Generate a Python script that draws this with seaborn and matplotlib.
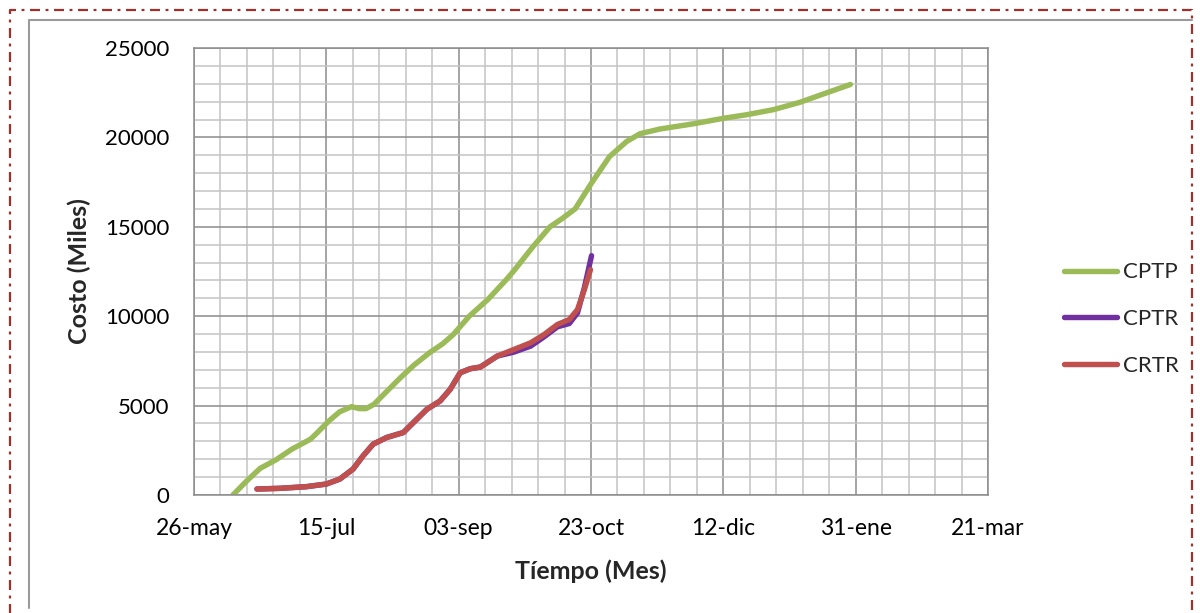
import numpy as np
import pandas as pd
import matplotlib
matplotlib.use("Agg")
import matplotlib.pyplot as plt
import matplotlib.dates as mdates
from matplotlib.ticker import MultipleLocator, FixedLocator, FixedFormatter
from matplotlib.lines import Line2D
import seaborn as sns

# ---------------- data ----------------
fecha_inicio = "2011-05-26"
tick_fechas = ["2011-05-26", "2011-07-15", "2011-09-03", "2011-10-23",
               "2011-12-12", "2012-01-31", "2012-03-21"]
tick_labels = ["26-may", "15-jul", "03-sep", "23-oct", "12-dic", "31-ene", "21-mar"]
series = ["CPTP", "CPTR", "CRTR"]
colores = ["#9BBB59", "#7030A0", "#C0504D"]

# days after fecha_inicio, cost (miles)
dias_cptp = [14.7, 20, 25, 31, 37, 44, 46, 51, 55, 59.5, 62.5, 65, 68, 73, 78, 83,
             89, 94, 98, 104, 111, 118, 121, 128, 134.5, 139, 144, 150, 157, 163.5,
             168.5, 176, 189, 200, 209, 219, 229, 239, 248]
costo_cptp = [0, 800, 1490, 1970, 2565, 3120, 3400, 4145, 4650, 4940, 4830, 4830,
              5075, 5820, 6560, 7250, 7960, 8460, 8980, 10000, 10930, 12045, 12565,
              13876, 15000, 15450, 16000, 17400, 18930, 19775, 20206, 20468, 20768,
              21068, 21273, 21554, 21966, 22491, 22960]

dias_cptr = [23.8, 32.3, 42.4, 50, 55.1, 60.1, 63.9, 67.7, 72.8, 79.1, 82.9, 88, 93,
             96.8, 100.6, 104.4, 108.2, 114.6, 120.9, 127.2, 132.3, 137.3, 141.8,
             144.9, 147.5, 150.2]
costo_cptr = [335, 372, 465, 613, 892, 1450, 2193, 2844, 3216, 3494, 4052, 4796, 5260,
              5911, 6840, 7063, 7156, 7770, 7993, 8327, 8848, 9405, 9591, 10186,
              11600, 13383]

dias_crtr = [23.8, 32.3, 42.4, 50, 55.1, 60.1, 63.9, 67.7, 72.8, 79.1, 82.9, 88, 93,
             96.8, 100.6, 104.4, 108.2, 114.6, 120.9, 127.2, 132.3, 137.3, 141.8,
             144.9, 147.5, 149.8]
costo_crtr = [335, 372, 465, 613, 892, 1450, 2193, 2844, 3216, 3494, 4052, 4796, 5260,
              5911, 6840, 7063, 7156, 7770, 8141, 8513, 8978, 9535, 9814, 10372,
              11487, 12602]

# ---------------- build table ----------------
base = pd.Timestamp(fecha_inicio)
frames = []
for nombre, d, c in zip(series, [dias_cptp, dias_cptr, dias_crtr],
                        [costo_cptp, costo_cptr, costo_crtr]):
    frames.append(pd.DataFrame({
        "Fecha": [base + pd.Timedelta(days=float(x)) for x in d],
        "Costo": c,
        "Serie": nombre,
    }))
df = pd.concat(frames, ignore_index=True)

# ---------------- style ----------------
sns.set_theme(style="white")
plt.rcParams["font.family"] = ["Lato", "DejaVu Sans"]

W, H = 1200, 613
fig = plt.figure(figsize=(W / 100, H / 100), dpi=100)
fig.patch.set_facecolor("white")
L, R, T, B = 194, 988, 48, 495
ax = fig.add_axes([L / W, 1 - B / H, (R - L) / W, (B - T) / H])

sns.lineplot(data=df, x="Fecha", y="Costo", hue="Serie", hue_order=series,
             palette=dict(zip(series, colores)), linewidth=3.9, sort=False,
             estimator=None, ax=ax, solid_capstyle="round", solid_joinstyle="round")

xmin = mdates.date2num(pd.Timestamp(tick_fechas[0]))
xmax = mdates.date2num(pd.Timestamp(tick_fechas[-1]))
ax.set_xlim(xmin, xmax)
ax.set_ylim(0, 25000)

ax.xaxis.set_major_locator(FixedLocator([mdates.date2num(pd.Timestamp(t)) for t in tick_fechas]))
ax.xaxis.set_major_formatter(FixedFormatter(tick_labels))
ax.xaxis.set_minor_locator(MultipleLocator(10))
ax.yaxis.set_major_locator(MultipleLocator(5000))
ax.yaxis.set_minor_locator(MultipleLocator(1000))

ax.grid(which="minor", color="#C4C4C4", linewidth=1.1)
ax.grid(which="major", color="#8C8C8C", linewidth=1.1)
ax.set_axisbelow(True)

for s in ax.spines.values():
    s.set_color("#8C8C8C")
    s.set_linewidth(1.1)

ax.tick_params(axis="both", which="major", direction="out", length=5.5, width=1.1,
               color="#8C8C8C", labelsize=16, labelcolor="black")
ax.tick_params(axis="y", which="major", pad=12)
ax.tick_params(axis="x", which="major", pad=11)
ax.tick_params(axis="x", which="major", labelsize=16.5)
ax.tick_params(which="minor", length=0)

ax.set_xlabel("Tíempo (Mes)", fontsize=18, fontweight="bold", labelpad=15)
ax.set_ylabel("Costo (Miles)", fontsize=18, fontweight="bold", labelpad=10)

handles, labels = ax.get_legend_handles_labels()
ax.legend(handles, labels, loc="center left",
          bbox_to_anchor=(1064 / W, 1 - 319 / H), bbox_transform=fig.transFigure,
          frameon=False, fontsize=16, handlelength=2.4, handletextpad=0.25,
          labelspacing=1.2, borderpad=0, borderaxespad=0)

# ---------------- outer frames ----------------
gx0, gy0, gx1, gy1 = 28.7, 19.5, 1192, 608
fig.add_artist(Line2D([gx0 / W, gx0 / W, gx1 / W], [1 - gy1 / H, 1 - gy0 / H, 1 - gy0 / H],
                      transform=fig.transFigure, color="#9A9A9A", linewidth=1.5))
rx0, ry0, rx1 = 10, 10, 1192
fig.add_artist(Line2D([rx0 / W, rx0 / W, rx1 / W, rx1 / W],
                      [-0.02, 1 - ry0 / H, 1 - ry0 / H, -0.02],
                      transform=fig.transFigure, color="#A0302D", linewidth=1.6,
                      linestyle=(0, (4.5, 2.5, 1.3, 2.5))))

fig.savefig("out.png", dpi=100)
